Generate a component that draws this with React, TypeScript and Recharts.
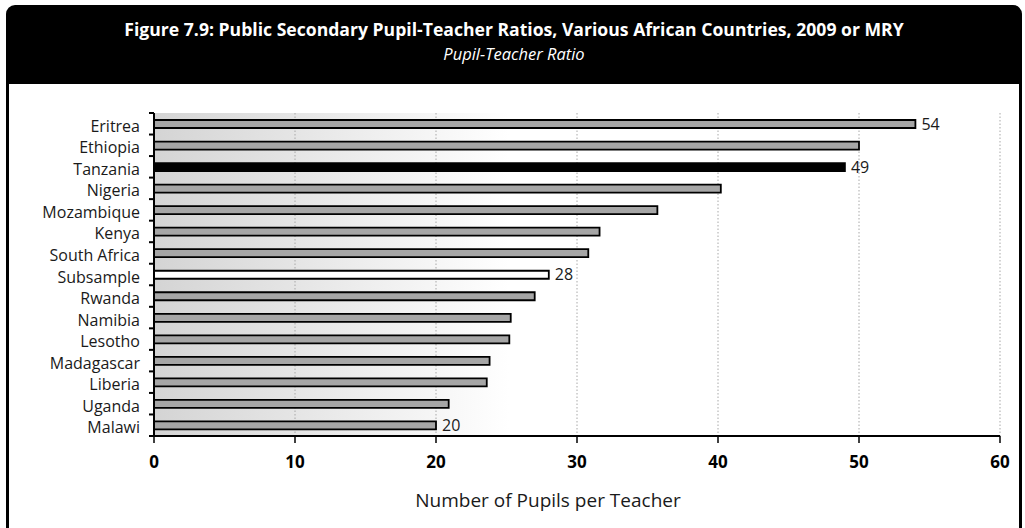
import React from "react";
import {
  BarChart,
  Bar,
  XAxis,
  YAxis,
  CartesianGrid,
  Cell,
  LabelList,
} from "recharts";

// Pupil-teacher ratio by country (public secondary, 2009 or most recent year)
const countries = [
  "Eritrea",
  "Ethiopia",
  "Tanzania",
  "Nigeria",
  "Mozambique",
  "Kenya",
  "South Africa",
  "Subsample",
  "Rwanda",
  "Namibia",
  "Lesotho",
  "Madagascar",
  "Liberia",
  "Uganda",
  "Malawi",
];
const ratios = [54, 50, 49, 40.2, 35.7, 31.6, 30.8, 28, 27, 25.3, 25.2, 23.8, 23.6, 20.9, 20];
const labeledCountries = ["Eritrea", "Tanzania", "Subsample", "Malawi"];
const xTicks = [0, 10, 20, 30, 40, 50, 60];

const titleText = "Figure 7.9: Public Secondary Pupil-Teacher Ratios, Various African Countries, 2009 or MRY";
const subtitleText = "Pupil-Teacher Ratio";
const xAxisTitle = "Number of Pupils per Teacher";

const data = countries.map((country, i) => ({
  country,
  ratio: ratios[i],
  label: labeledCountries.includes(country) ? String(Math.round(ratios[i])) : "",
}));

const FONT = "'Open Sans', 'DejaVu Sans', sans-serif";

const barFill = (country: string) =>
  country === "Tanzania" ? "#000000" : country === "Subsample" ? "#ffffff" : "#a6a6a6";

// Category tick: country name plus a short mark at the band's upper edge
// (and the lower edge for the last row).
const CountryTick = (props: any) => {
  const { x, y, payload, index, visibleTicksCount } = props;
  const half = payload.offset ?? 0;
  const axisX = x + 14;
  const isLast = index === visibleTicksCount - 1;
  return (
    <g>
      <line x1={axisX - 5} x2={axisX} y1={y - half} y2={y - half} stroke="#000" strokeWidth={2} />
      {isLast && (
        <line x1={axisX - 5} x2={axisX} y1={y + half} y2={y + half} stroke="#000" strokeWidth={2} />
      )}
      <text
        x={x}
        y={y}
        dy={8}
        textAnchor="end"
        fontFamily={FONT}
        fontSize={16}
        fill="#1a1a1a"
      >
        {payload.value}
      </text>
    </g>
  );
};

export default function App() {
  return (
    <div
      style={{
        position: "absolute",
        left: 0,
        top: 0,
        width: 1025,
        height: 528,
        background: "#fff",
        overflow: "hidden",
      }}
    >
      {/* panel frame */}
      <div
        style={{
          position: "absolute",
          left: 6,
          top: 80,
          width: 1010,
          height: 460,
          borderLeft: "3px solid #000",
          borderRight: "3px solid #000",
        }}
      />
      {/* header band with title and subtitle */}
      <div
        style={{
          position: "absolute",
          left: 6,
          top: 5,
          width: 1016,
          height: 79,
          background: "#000",
          borderRadius: "9px 9px 0 0",
          color: "#fff",
          fontFamily: FONT,
          textAlign: "center",
        }}
      >
        <div
          style={{
            position: "absolute",
            left: 0,
            right: 0,
            top: 12,
            fontSize: 17.6,
            fontWeight: 700,
            lineHeight: "24px",
            whiteSpace: "nowrap",
          }}
        >
          {titleText}
        </div>
        <div
          style={{
            position: "absolute",
            left: 0,
            right: 0,
            top: 38,
            fontSize: 16.5,
            fontStyle: "italic",
            lineHeight: "22px",
            whiteSpace: "nowrap",
          }}
        >
          {subtitleText}
        </div>
      </div>
      <div style={{ position: "absolute", left: 0, top: 0 }}>
        <BarChart
          width={1025}
          height={528}
          data={data}
          layout="vertical"
          margin={{ top: 113, right: 25, bottom: 0, left: 0 }}
          barSize={8}
        >
          <defs>
            <linearGradient id="bgFade" x1="0" y1="0" x2="1" y2="0">
              <stop offset="0" stopColor="#d4d4d4" />
              <stop offset="0.42" stopColor="#ffffff" />
              <stop offset="1" stopColor="#ffffff" />
            </linearGradient>
          </defs>
          <CartesianGrid
            horizontal={false}
            vertical={true}
            stroke="#a8a8a8"
            strokeDasharray="1.5 2"
            fill="url(#bgFade)"
            fillOpacity={1}
          />
          <XAxis
            type="number"
            domain={[0, 60]}
            ticks={xTicks}
            height={92}
            axisLine={{ stroke: "#000", strokeWidth: 2 }}
            tickLine={{ stroke: "#000", strokeWidth: 1.5 }}
            tickSize={7}
            tickMargin={13}
            tick={{ fontFamily: FONT, fontSize: 17, fontWeight: 700, fill: "#000" }}
            label={{
              value: xAxisTitle,
              position: "insideBottom",
              offset: 21,
              dx: -29,
              fontFamily: FONT,
              fontSize: 19,
              fill: "#1a1a1a",
            }}
          />
          <YAxis
            type="category"
            dataKey="country"
            width={154}
            axisLine={{ stroke: "#000", strokeWidth: 2 }}
            tickLine={false}
            tickSize={6}
            tickMargin={8}
            interval={0}
            tick={<CountryTick />}
          />
          <Bar dataKey="ratio" stroke="#000" strokeWidth={1.8} isAnimationActive={false}>
            {data.map((d) => (
              <Cell key={d.country} fill={barFill(d.country)} />
            ))}
            <LabelList
              dataKey="label"
              position="right"
              offset={6}
              fontFamily={FONT}
              fontSize={16}
              fill="#1a1a1a"
            />
          </Bar>
        </BarChart>
      </div>
    </div>
  );
}
